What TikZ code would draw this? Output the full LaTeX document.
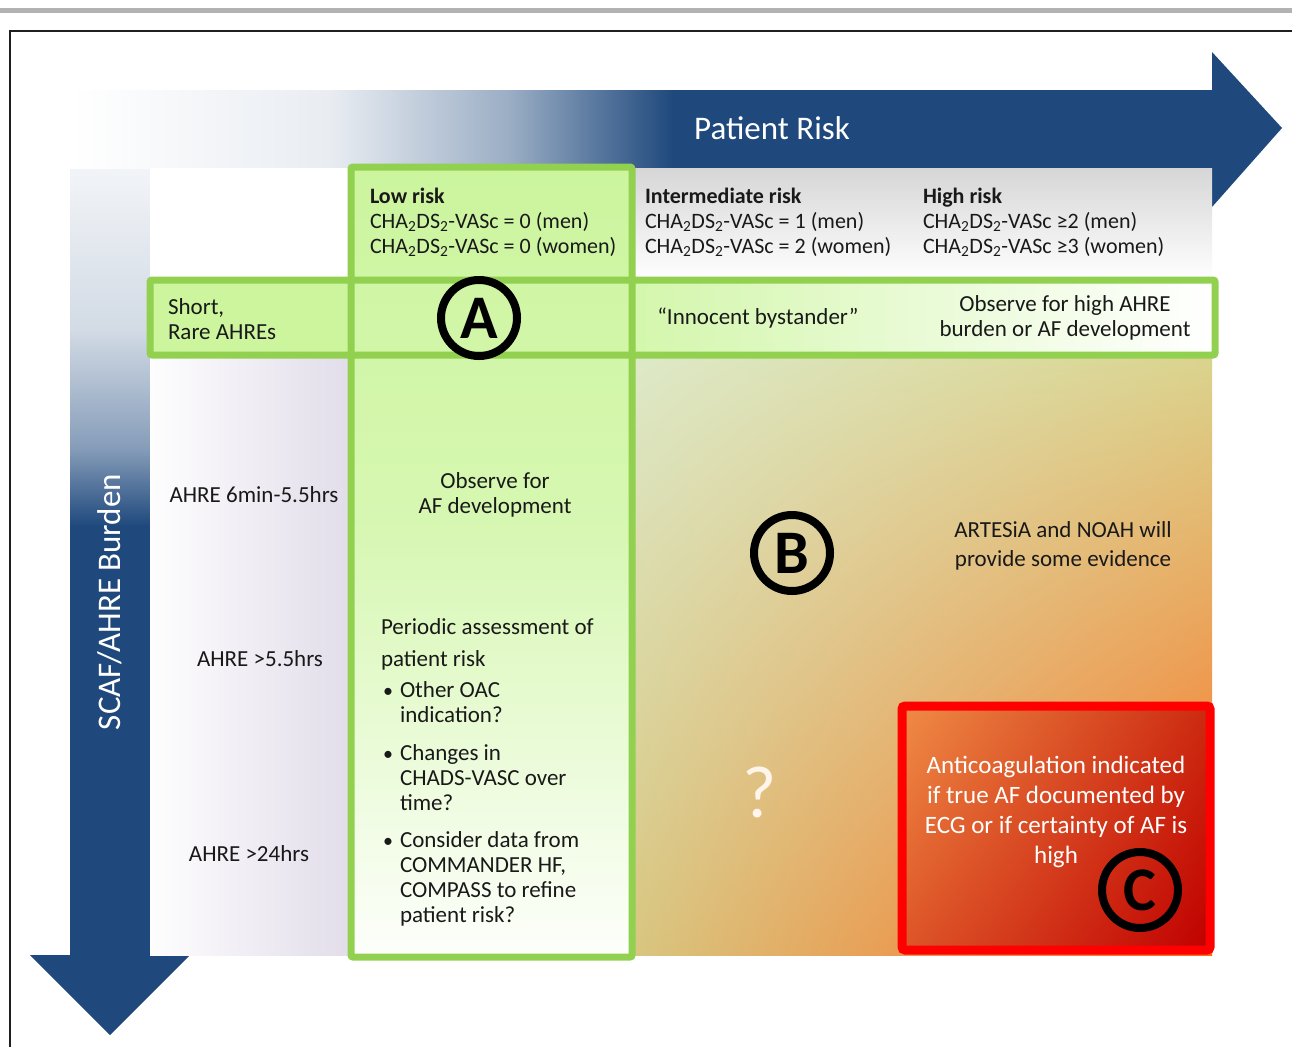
\documentclass[tikz,border=0pt]{standalone}
\usepackage{fontspec}
\setmainfont{Carlito}
\usetikzlibrary{shadings}
\definecolor{navy}{HTML}{1F497D}
\definecolor{gborder}{HTML}{92D050}
\definecolor{gfill}{HTML}{CCF59E}
\definecolor{lav}{HTML}{E2DDEA}
\definecolor{oUL}{HTML}{DDE9C8}
\definecolor{oUR}{HTML}{DAD48E}
\definecolor{oLL}{HTML}{D8C680}
\definecolor{oLR}{HTML}{FF6A1C}
\definecolor{rUL}{HTML}{F08C46}
\definecolor{rUR}{HTML}{CC2A10}
\definecolor{rLL}{HTML}{DD5528}
\definecolor{dred}{HTML}{C00000}
\begin{document}
\begin{tikzpicture}[x=1pt,y=-1pt,
  every node/.style={inner sep=0pt,outer sep=0pt},
  body/.style={font=\fontsize{23}{25}\selectfont, text=black!90},
  hdr/.style={body, align=left, anchor=base west},
  hdrs/.style={hdr, font=\fontsize{22}{25}\selectfont},
  ctr/.style={body, align=center},
  letter/.style={circle, draw=black, line width=8pt, minimum size=76pt, text=black, font=\fontsize{62}{62}\selectfont\bfseries},
  gbox/.style={draw=gborder, line width=7pt, rounded corners=2pt}]
\useasboundingbox (0,0) rectangle (1292,1047);
\fill[white] (0,0) rectangle (1292,1047);
% top rule and frame
\draw[black!30, line width=5pt] (0,10) -- (1292,10);
\draw[black!88, line width=2.5pt] (1292,31) -- (10,31) -- (10,1047);
% vertical arrow
\shade[top color=white, bottom color=navy!20!white] (70,100) rectangle (150,331);
\shade[top color=navy!20!white, bottom color=navy!55!white] (70,330) rectangle (150,451);
\shade[top color=navy!55!white, bottom color=navy] (70,450) rectangle (150,526);
\fill[navy] (70,525) -- (150,525) -- (150,955) -- (190,955) -- (110,1035) -- (30,955) -- (70,955) -- cycle;
% horizontal arrow
\shade[left color=white, right color=navy!10!white] (70,90) rectangle (331,168);
\shade[left color=navy!10!white, right color=navy!45!white] (330,90) rectangle (511,168);
\shade[left color=navy!45!white, right color=navy] (510,90) rectangle (673,168);
\fill[navy] (672,90) -- (1212,90) -- (1212,52) -- (1282,128) -- (1212,207) -- (1212,168) -- (672,168) -- cycle;
% panel backgrounds
\fill[white] (150,168) rectangle (634,280);
\shade[top color=black!16, bottom color=white] (634,168) rectangle (1212,280);
\shade[left color=white!95!lav, right color=lav] (150,355) rectangle (351,955);
\shade[upper left=oUL, upper right=oUR, lower left=oLL, lower right=oLR] (632,355) rectangle (1212,955);
% row fill
\fill[gfill] (150,280) rectangle (634,355);
\shade[left color=gfill!85!white, right color=white] (634,280) rectangle (1215,355);
% column fill
\shade[top color=gfill, bottom color=gfill!80!white] (351,167) rectangle (632,521);
\shade[top color=gfill!80!white, bottom color=white!96!gfill] (351,520) rectangle (632,957);
% borders
\draw[gbox] (351,167) rectangle (632,957);
\draw[gbox] (150,280) rectangle (1215,355);
% red box
\shade[upper left=rUL, upper right=rUR, lower left=rLL, lower right=dred] (902,706) rectangle (1210,950);
\draw[red, line width=9pt, rounded corners=3pt] (902,706) rectangle (1210,950);
% arrow labels
\node[font=\fontsize{33}{33}\selectfont, text=white] (prisk) at (772,128) {Patient Risk};
\node[font=\fontsize{33}{33}\selectfont, text=white, rotate=90] (burden) at (110,602) {SCAF/AHRE Burden};
% header
\node[hdrs] (low) at (370,253) {\textbf{Low risk}\\CHA\textsubscript{2}DS\textsubscript{2}-VASc = 0 (men)\\CHA\textsubscript{2}DS\textsubscript{2}-VASc = 0 (women)};
\node[hdrs] (inter) at (645,253) {\textbf{Intermediate risk}\\CHA\textsubscript{2}DS\textsubscript{2}-VASc = 1 (men)\\CHA\textsubscript{2}DS\textsubscript{2}-VASc = 2 (women)};
\node[hdrs] (high) at (923,253) {\textbf{High risk}\\CHA\textsubscript{2}DS\textsubscript{2}-VASc ≥2 (men)\\CHA\textsubscript{2}DS\textsubscript{2}-VASc ≥3 (women)};
% row labels
\node[hdr] (short) at (168,339) {Short,\\Rare AHREs};
\node[body] (r1) at (254,495) {AHRE 6min-5.5hrs};
\node[body] (r2) at (260,659) {AHRE >5.5hrs};
\node[body] (r3) at (249,854) {AHRE >24hrs};
% cells
\node[letter] (cA) at (479,318) {A};
\node[body] (innoc) at (758,318) {“Innocent bystander”};
\node[ctr] (obshigh) at (1065,318) {Observe for high AHRE\\burden or AF development};
\node[ctr] (obsaf) at (495,495) {Observe for\\AF development};
\node[letter] (cB) at (792,553) {B};
\node[ctr, font=\fontsize{23}{29}\selectfont] (artesia) at (1063,546) {ARTESiA and NOAH will\\provide some evidence};
\node[font=\fontsize{74}{74}\selectfont, text=white!92!orange] (qm) at (760,792) {?};
\node[hdr] (period) at (381,634) {Periodic assessment of};
\node[hdr] (period2) at (381,666) {patient risk};
\node[body, anchor=base west, font=\fontsize{20}{25}\selectfont] (b1) at (383,697) {•};
\node[hdr] (i1) at (400,722) {Other OAC\\indication?};
\node[body, anchor=base west, font=\fontsize{20}{25}\selectfont] (b2) at (383,760) {•};
\node[hdr] (i2) at (400,810) {Changes in\\CHADS-VASC over\\time?};
\node[body, anchor=base west, font=\fontsize{20}{25}\selectfont] (b3) at (383,847) {•};
\node[hdr] (i3) at (400,922) {Consider data from\\COMMANDER HF,\\COMPASS to refine\\patient risk?};
\node[align=center, text=white, font=\fontsize{25}{30}\selectfont] (ctext) at (1056,812) {Anticoagulation indicated\\if true AF documented by\\ECG or if certainty of AF is\\high};
\node[letter] (cC) at (1140,890) {C};
\end{tikzpicture}
\end{document}
